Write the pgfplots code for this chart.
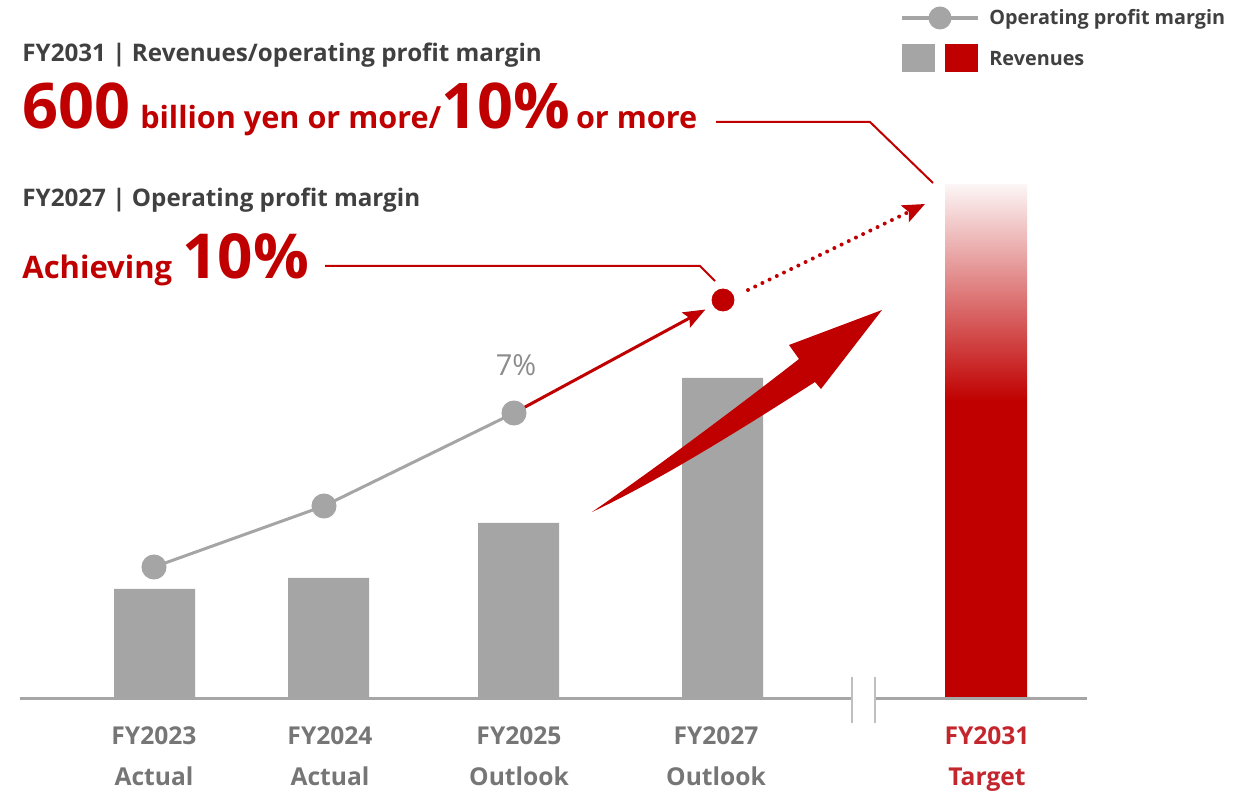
\documentclass[border=0pt]{standalone}
\usepackage{fontspec}
\setmainfont{Open Sans}
\usepackage{pgfplots}
\pgfplotsset{compat=1.18}
\usetikzlibrary{arrows.meta}

\definecolor{bargray}{HTML}{A5A5A5}
\definecolor{tgred}{HTML}{C00000}
\definecolor{darktext}{HTML}{404040}
\definecolor{labgray}{HTML}{767676}
\definecolor{axgray}{HTML}{A6A6A6}
\definecolor{brkgray}{HTML}{BFBFBF}
\definecolor{pctgray}{HTML}{8C8C8C}
\definecolor{lab31}{HTML}{C4262E}
% solid red in the lower part, fading to pale pink at the top
\pgfdeclareverticalshading{targetfade}{100bp}{color(0bp)=(tgred); color(25bp)=(tgred); color(54bp)=(tgred); color(75bp)=(tgred!4); color(100bp)=(tgred!4)}

\tikzset{catlab/.style={anchor=base, inner sep=0, text=labgray, font=\bfseries\fontsize{12.3}{14}\selectfont}}

\begin{document}
\begin{tikzpicture}
\begin{axis}[
    width=626.5pt, height=396pt, scale only axis,
    xmin=0, xmax=1253, ymin=-93, ymax=699,
    hide axis, clip=false,
]
% revenues (heights above the base line)
\addplot[ybar, bar width=81, bar shift=0pt, fill=bargray, draw=none]
    coordinates {(154.5,110) (328.5,121) (518.5,176) (722.5,321)};
\addplot[ybar, bar width=82, bar shift=0pt, draw=none, shading=targetfade]
    coordinates {(986,514)};

% base line with break
\draw[axgray, line width=1.5pt] (axis cs:20,0) -- (axis cs:852,0);
\draw[axgray, line width=1.5pt] (axis cs:875,0) -- (axis cs:1087,0);
\draw[brkgray, line width=0.8pt] (axis cs:852,22) -- (axis cs:852,-24);
\draw[brkgray, line width=0.8pt] (axis cs:875,22) -- (axis cs:875,-24);

% operating profit margin
\addplot[bargray, line width=1.5pt, mark=*, mark size=5.5pt,
    mark options={draw=none, fill=bargray}]
    coordinates {(154,132) (324,193) (514,286)};
\addplot[tgred, no marks, line width=1.5pt, shorten >=10pt,
    -{Stealth[length=11pt, width=8.5pt, inset=2pt]}]
    coordinates {(514,286) (723,399)};
\addplot[tgred, only marks, mark=*, mark size=5.5pt, mark options={draw=none, fill=tgred}]
    coordinates {(723,399)};
\draw[tgred, line width=2pt, line cap=round, dash pattern=on 0pt off 4pt,
    -{Stealth[length=11pt, width=9pt, inset=2pt]}]
    (axis cs:748,409) -- (axis cs:925,495);

% big growth arrow
\fill[tgred] (axis cs:592,187) .. controls (axis cs:660,234) and (axis cs:740,294) .. (axis cs:799,340)
    -- (axis cs:789,354) -- (axis cs:882,389) -- (axis cs:821,310) -- (axis cs:815,317)
    .. controls (axis cs:740,269) and (axis cs:660,219) .. (axis cs:592,187) -- cycle;

\node[text=pctgray, font=\fontsize{14.5}{16}\selectfont] at (axis cs:516,334) {7\%};

% leader lines
\draw[tgred, line width=1pt] (axis cs:716,577) -- (axis cs:870,577) -- (axis cs:933,516);
\draw[tgred, line width=1pt] (axis cs:325,433) -- (axis cs:700,433) -- (axis cs:715,418);

% headings
\node[anchor=base west, inner sep=0, text=darktext, font=\bfseries\fontsize{12.1}{14}\selectfont]
    at (axis cs:22,637) {FY2031 | Revenues/operating profit margin};
\node[anchor=base west, inner sep=0, text=tgred, font=\bfseries]
    at (axis cs:22,570) {\fontsize{31.5}{36}\selectfont 600\hspace{5pt}\fontsize{15.3}{18}\selectfont billion yen or more/\fontsize{31.5}{36}\selectfont 10\%\hspace{3pt}\fontsize{15.3}{18}\selectfont or more};
\node[anchor=base west, inner sep=0, text=darktext, font=\bfseries\fontsize{12.1}{14}\selectfont]
    at (axis cs:22,492) {FY2027 | Operating profit margin};
\node[anchor=base west, inner sep=0, text=tgred, font=\bfseries]
    at (axis cs:22,420) {\fontsize{15.5}{18}\selectfont Achieving\hspace{5pt}\fontsize{31}{36}\selectfont 10\%};

% category labels
\node[catlab] at (axis cs:154,-46) {FY2023};
\node[catlab] at (axis cs:154,-87) {Actual};
\node[catlab] at (axis cs:330,-46) {FY2024};
\node[catlab] at (axis cs:330,-87) {Actual};
\node[catlab] at (axis cs:519,-46) {FY2025};
\node[catlab] at (axis cs:519,-87) {Outlook};
\node[catlab] at (axis cs:716,-46) {FY2027};
\node[catlab] at (axis cs:716,-87) {Outlook};
\node[catlab, text=lab31] at (axis cs:987,-46) {FY2031};
\node[catlab, text=lab31] at (axis cs:987,-87) {Target};

% legend
\draw[bargray, line width=2pt] (axis cs:902,681) -- (axis cs:978,681);
\fill[bargray] (axis cs:940,681) circle[radius=5.75pt];
\fill[bargray] (axis cs:902,627) rectangle (axis cs:935,655);
\fill[tgred] (axis cs:945,627) rectangle (axis cs:978,655);
\node[anchor=base west, inner sep=0, text=darktext, font=\bfseries\fontsize{9.9}{12}\selectfont]
    at (axis cs:989,674) {Operating profit margin};
\node[anchor=base west, inner sep=0, text=darktext, font=\bfseries\fontsize{9.9}{12}\selectfont]
    at (axis cs:989,633) {Revenues};
\end{axis}
\pgfresetboundingbox
\useasboundingbox (current axis.south west) rectangle (current axis.north east);
\end{tikzpicture}
\end{document}
